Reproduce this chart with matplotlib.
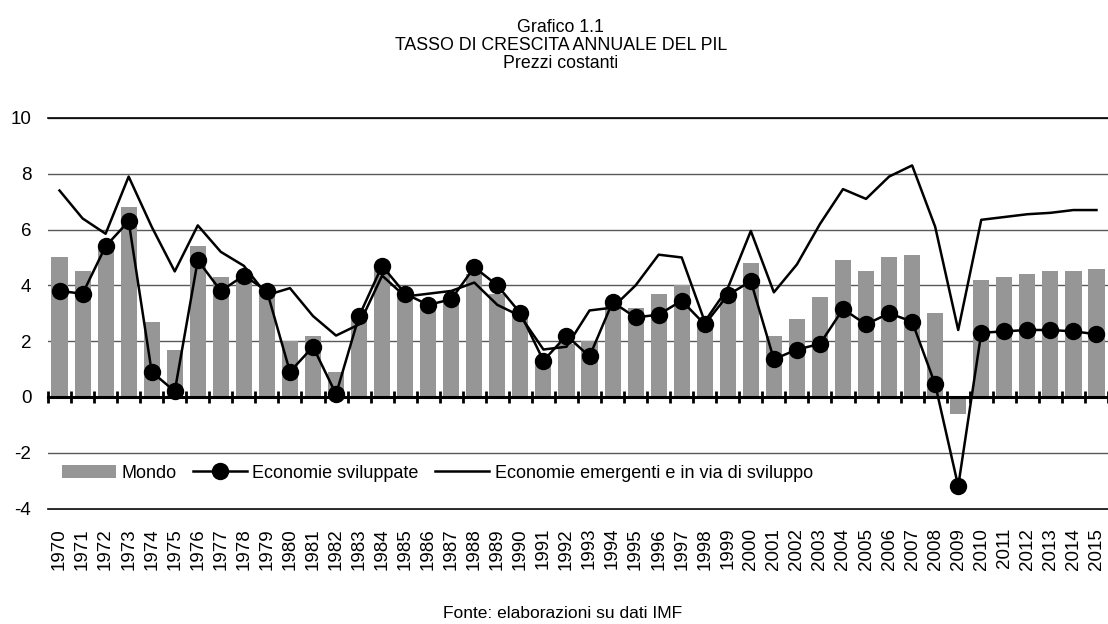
import numpy as np
import matplotlib
matplotlib.use('Agg')
import matplotlib.pyplot as plt

plt.rcParams['font.family'] = ['Liberation Sans', 'DejaVu Sans']
plt.rcParams['axes.unicode_minus'] = False

# anni 1970-2015
anni = [str(a) for a in range(1970, 2016)]

# Mondo (barre)
mondo = [5.0, 4.5, 5.3, 6.8, 2.7, 1.7, 5.4, 4.3, 4.2, 3.7,
         2.0, 2.2, 0.9, 2.8, 4.6, 3.6, 3.4, 3.5, 4.4, 3.7,
         3.0, 1.4, 1.9, 2.0, 3.3, 3.2, 3.7, 4.0, 2.6, 3.6,
         4.8, 2.2, 2.8, 3.6, 4.9, 4.5, 5.0, 5.1, 3.0, -0.6,
         4.2, 4.3, 4.4, 4.5, 4.5, 4.6]

# Economie sviluppate (linea con cerchi)
sviluppate = [3.8, 3.7, 5.4, 6.3, 0.9, 0.2, 4.9, 3.8, 4.35, 3.8,
              0.9, 1.8, 0.1, 2.9, 4.7, 3.7, 3.3, 3.5, 4.65, 4.0,
              3.0, 1.3, 2.2, 1.45, 3.4, 2.85, 2.95, 3.45, 2.6, 3.65,
              4.15, 1.35, 1.7, 1.9, 3.15, 2.6, 3.0, 2.7, 0.45, -3.2,
              2.3, 2.35, 2.4, 2.4, 2.35, 2.25]

# Economie emergenti e in via di sviluppo (linea)
emergenti = [7.4, 6.4, 5.85, 7.9, 6.1, 4.5, 6.15, 5.2, 4.7, 3.65,
             3.9, 2.9, 2.2, 2.6, 4.35, 3.6, 3.7, 3.8, 4.1, 3.3,
             2.9, 1.7, 1.8, 3.1, 3.2, 4.0, 5.1, 5.0, 2.7, 3.9,
             5.95, 3.75, 4.75, 6.2, 7.45, 7.1, 7.9, 8.3, 6.1, 2.4,
             6.35, 6.45, 6.55, 6.6, 6.7, 6.7]

x = np.arange(len(anni))

fig = plt.figure(figsize=(11.08, 6.24), dpi=100)
ax = fig.add_axes([48 / 1108, 1 - 508.5 / 624, 1 - 48 / 1108, (508.5 - 118) / 624])

b = ax.bar(x, mondo, width=0.7, color='#969696', label='Mondo', zorder=2)
l1, = ax.plot(x, sviluppate, color='black', lw=1.8, marker='o', ms=11.5,
              label='Economie sviluppate', zorder=4)
l2, = ax.plot(x, emergenti, color='black', lw=1.8,
              label='Economie emergenti e in via di sviluppo', zorder=3)

ax.set_xlim(-0.5, len(anni) - 0.5)
ax.set_ylim(-4, 10)
ax.set_yticks(range(-4, 11, 2))
ax.yaxis.grid(True, color='#595959', lw=1)
ax.set_axisbelow(True)
ax.tick_params(axis='y', length=0, labelsize=13.5, pad=12)

for s in ['left', 'right']:
    ax.spines[s].set_visible(False)
ax.spines['top'].set_color('black')
ax.spines['top'].set_linewidth(1.2)

# asse dello zero con tacche
ax.spines['bottom'].set_position(('data', 0))
ax.spines['bottom'].set_linewidth(2.2)
ax.spines['bottom'].set_zorder(5)
ax.set_xticks(x)
ax.set_xticklabels([])
ax.set_xticks(np.arange(len(anni) + 1) - 0.5, minor=True)
ax.tick_params(axis='x', which='major', length=0)
ax.tick_params(axis='x', which='minor', direction='inout', length=9, width=2)

# etichette anni in basso
sec = ax.secondary_xaxis('bottom')
sec.set_xticks(x)
sec.set_xticklabels(anni, rotation=90, fontsize=13.5)
sec.tick_params(length=0, pad=14)
sec.spines['bottom'].set_linewidth(1.2)
sec.spines['bottom'].set_color('black')

ax.legend(handles=[b, l1, l2], loc='center left', bbox_to_anchor=(0.013, 0.09),
          ncol=3, frameon=False, fontsize=13, handlelength=3.0, handleheight=0.75,
          borderaxespad=0, borderpad=0, columnspacing=0.9, handletextpad=0.3)

fig.text(0.506, 1 - 28 / 624, 'Grafico 1.1', ha='center', va='center', fontsize=12.8)
fig.text(0.506, 1 - 46 / 624, 'TASSO DI CRESCITA ANNUALE DEL PIL', ha='center', va='center', fontsize=12.8)
fig.text(0.506, 1 - 64 / 624, 'Prezzi costanti', ha='center', va='center', fontsize=12.8)
fig.text(0.508, 1 - 613 / 624, 'Fonte: elaborazioni su dati IMF', ha='center', va='center', fontsize=12.5)

fig.savefig('out.png', dpi=100)
